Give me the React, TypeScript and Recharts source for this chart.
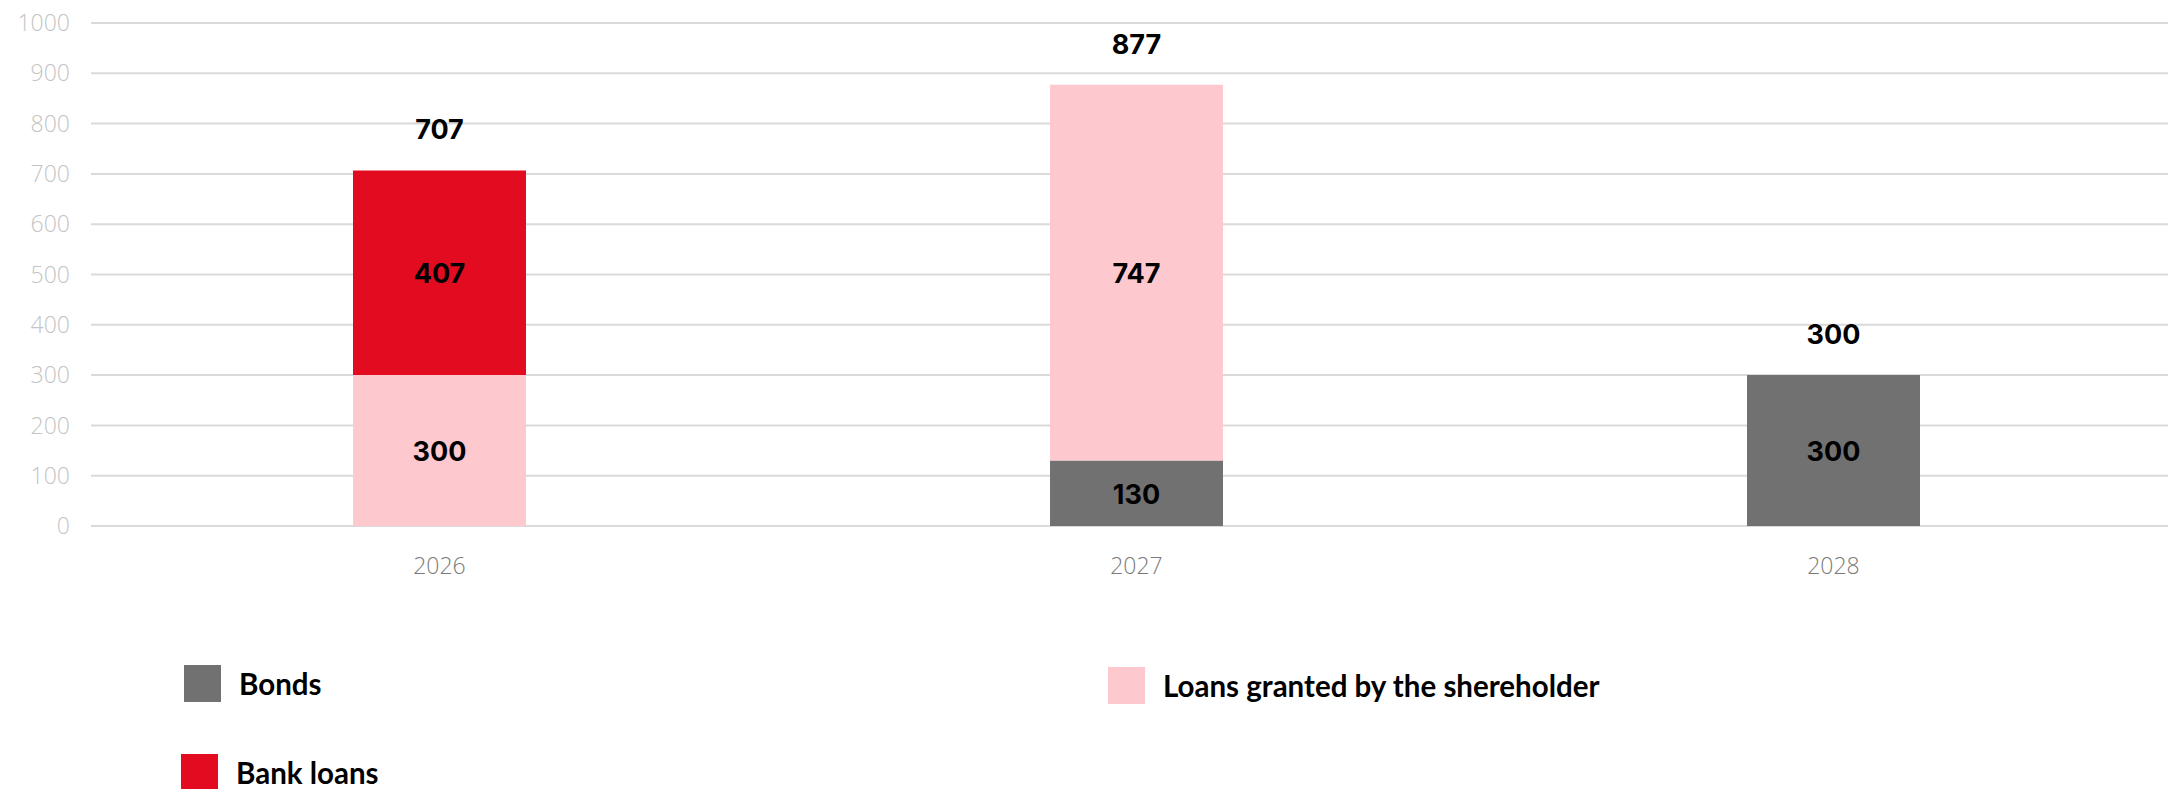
import { BarChart, Bar, XAxis, YAxis, CartesianGrid, LabelList } from 'recharts'

const categories = ['2026', '2027', '2028']
const bonds = [0, 130, 300]
const shareholderLoans = [300, 747, 0]
const bankLoans = [407, 0, 0]
const yTicks = [0, 100, 200, 300, 400, 500, 600, 700, 800, 900, 1000]

// stack order, bottom to top
const series = [
  { key: 'bonds', name: 'Bonds', color: '#717171', values: bonds },
  { key: 'shareholder', name: 'Loans granted by the shereholder', color: '#fdc8ce', values: shareholderLoans },
  { key: 'bank', name: 'Bank loans', color: '#e30b20', values: bankLoans },
]

const totals = categories.map((_, i) => series.reduce((s, ser) => s + ser.values[i], 0))

// which series sits on top of each stack -> carries the total label
const topOf = categories.map((_, i) => {
  let top = -1
  series.forEach((s, j) => {
    if (s.values[i] > 0) top = j
  })
  return top
})

const data = categories.map((year, i) => {
  const row: Record<string, any> = { year }
  series.forEach((s, j) => {
    row[s.key] = s.values[i]
    row[s.key + 'Total'] = topOf[i] === j ? totals[i] : null
  })
  return row
})

// legend placement (page pixels), by series key
const legendPos: Record<string, { left: number; top: number }> = {
  bonds: { left: 184, top: 665 },
  shareholder: { left: 1108, top: 667 },
  bank: { left: 181, top: 754 },
}

const labelFont = { fontFamily: 'Inter, sans-serif', fontWeight: 700, fontSize: 27, fill: '#000' }

const InsideLabel = (props: any) => {
  const { x, y, width, height, value } = props
  if (!value) return null
  return (
    <text
      x={Number(x) + Number(width) / 2}
      y={Number(y) + Number(height) / 2}
      dy="0.38em"
      textAnchor="middle"
      {...labelFont}
    >
      {value}
    </text>
  )
}

const TotalLabel = (props: any) => {
  const { x, y, width, value } = props
  if (value === null || value === undefined || value === '') return null
  return (
    <text x={Number(x) + Number(width) / 2} y={Number(y) - 31} textAnchor="middle" {...labelFont}>
      {value}
    </text>
  )
}

function Legend() {
  return (
    <>
      {series.map((s) => (
        <div
          key={s.key}
          style={{
            position: 'absolute',
            left: legendPos[s.key].left,
            top: legendPos[s.key].top,
            display: 'flex',
            alignItems: 'center',
            fontFamily: 'Lato, sans-serif',
            fontWeight: 700,
            fontSize: 29.5,
            color: '#000',
            whiteSpace: 'nowrap',
          }}
        >
          <span style={{ width: 37, height: 37, background: s.color, marginRight: 18, display: 'inline-block' }} />
          <span>{s.name}</span>
        </div>
      ))}
    </>
  )
}

export default function App() {
  return (
    <div
      style={{
        position: 'absolute',
        left: 0,
        top: 0,
        width: 2168,
        height: 789,
        overflow: 'hidden',
        background: '#fff',
      }}
    >
      <BarChart width={2182} height={789} data={data} margin={{ top: 23, right: 0, left: 0, bottom: 0 }}>
        <CartesianGrid vertical={false} stroke="#dadada" strokeWidth={2} />
        <XAxis
          dataKey="year"
          height={263}
          axisLine={false}
          tickLine={false}
          tickSize={0}
          tickMargin={32}
          tick={{ fill: '#7a7a7a', fontSize: 23, fontFamily: 'Open Sans, sans-serif', fontWeight: 300 }}
        />
        <YAxis
          width={91}
          domain={[0, 1000]}
          ticks={yTicks}
          interval={0}
          axisLine={false}
          tickLine={false}
          tickSize={0}
          tickMargin={21}
          tick={{ fill: '#c4c4c4', fontSize: 23, fontFamily: 'Open Sans, sans-serif', fontWeight: 300 }}
        />
        {series.map((s) => (
          <Bar key={s.key} dataKey={s.key} name={s.name} stackId="a" fill={s.color} barSize={173} isAnimationActive={false}>
            <LabelList dataKey={s.key} content={InsideLabel} />
            <LabelList dataKey={s.key + 'Total'} content={TotalLabel} />
          </Bar>
        ))}
      </BarChart>
      <Legend />
    </div>
  )
}
